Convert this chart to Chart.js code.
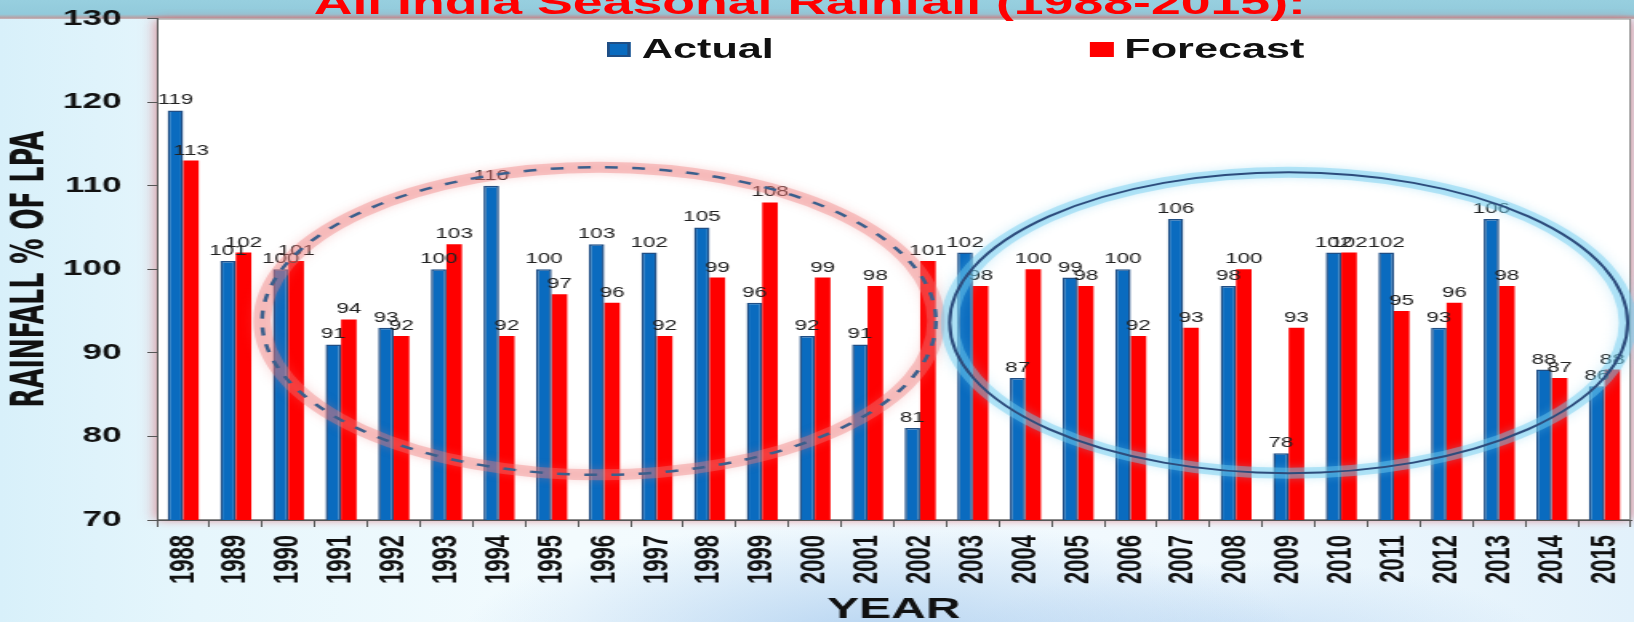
<!DOCTYPE html>
<html>
<head>
<meta charset="utf-8">
<script src="https://cdn.jsdelivr.net/npm/chart.js@4.4.1/dist/chart.umd.min.js"></script>
<style>
  html, body { margin: 0; padding: 0; }
  body {
    width: 1634px; height: 622px; overflow: hidden; position: relative;
    font-family: 'Liberation Sans', Arial, sans-serif;
    background:
      radial-gradient(ellipse 420px 120px at 880px 640px, rgba(160,198,236,0.75), rgba(160,198,236,0) 100%),
      radial-gradient(ellipse 300px 90px at 1250px 650px, rgba(175,208,240,0.6), rgba(175,208,240,0) 100%),
      linear-gradient(to right, #d8f0fa 0%, #e6f6fc 12%, #f3fbfe 35%, #f1f9fe 70%, #e2f1fb 100%);
  }
  #band {
    position: absolute; left: 0; top: 0; width: 1634px; height: 19px;
    background: linear-gradient(#97cfdf 0%, #92cadb 75%, #b5a3a8 92%, #c9b7bb 100%);
  }
  /* the original slide stretches the chart sideways, so does this */
  #stage {
    position: absolute; left: 0; top: 0; width: 1021px; height: 622px;
    transform: scaleX(1.6004); transform-origin: 0 0;
  }
  #stage canvas { position: absolute; left: 0; top: 0; }
  #title {
    position: absolute; left: 196px; top: -14px; white-space: nowrap;
    font: bold 33.5px/33px 'Liberation Sans', Arial, sans-serif; color: #ff0000;
  }
  #legend { position: absolute; left: 379px; top: 36px; display: flex; }
  .item { display: flex; align-items: center; margin-right: 197px;
    font: bold 27px/27px 'Liberation Sans', Arial, sans-serif; color: #111; }
  .box { width: 15px; height: 15px; box-sizing: border-box; margin-right: 7px; }
</style>
</head>
<body>
<div id="band"></div>
<div id="stage">
  <canvas id="myChart" width="1021" height="622"></canvas>
  <div id="title">All India Seasonal Rainfall (1988-2015):</div>
  <div id="legend"></div>
</div>
<script>
const years = ['1988','1989','1990','1991','1992','1993','1994','1995','1996','1997',
  '1998','1999','2000','2001','2002','2003','2004','2005','2006','2007',
  '2008','2009','2010','2011','2012','2013','2014','2015'];
const actual   = [119,101,100,91,93,100,110,100,103,102,105,96,92,91,81,102,87,99,100,106,98,78,102,102,93,106,88,86];
const forecast = [113,102,101,94,92,103,92,97,96,92,99,108,99,98,101,98,100,98,92,93,100,93,102,95,96,98,87,88];
const yTicks = [70, 80, 90, 100, 110, 120, 130];

// the two rings on the slide, in chart units (category index / % of LPA)
const rings = [
  { x: 7.9, y: 93.8, rx: 6.4, ry: 18.4, dashed: true },
  { x: 21,  y: 93.6, rx: 6.44, ry: 18.0, dashed: false }
];

const font = "'Liberation Sans', Arial, sans-serif";

const plotBox = {
  id: 'plotBox',
  beforeDraw(chart) {
    const {ctx, chartArea: a} = chart;
    ctx.save();
    ctx.shadowColor = 'rgba(215,95,105,0.8)';
    ctx.shadowBlur = 9;
    ctx.fillStyle = '#fff';
    ctx.fillRect(a.left, a.top, a.width, a.height);
    ctx.restore();
    ctx.save();
    ctx.strokeStyle = '#8c8c8c';
    ctx.lineWidth = 1;
    ctx.strokeRect(a.left + 0.5, a.top + 0.5, a.width - 1, a.height - 1);
    ctx.restore();
  }
};

const barLabels = {
  id: 'barLabels',
  afterDatasetsDraw(chart) {
    const ctx = chart.ctx;
    ctx.save();
    ctx.font = '14px ' + font;
    ctx.fillStyle = '#222';
    ctx.textAlign = 'center';
    chart.data.datasets.forEach((ds, i) => {
      chart.getDatasetMeta(i).data.forEach((bar, j) => {
        ctx.fillText(ds.data[j], bar.x, bar.y - 6);
      });
    });

    const xs = chart.scales.x, ys = chart.scales.y;
    rings.forEach(r => {
      const cx = xs.getPixelForValue(r.x);
      const cy = ys.getPixelForValue(r.y);
      const rx = xs.getPixelForValue(r.x + r.rx) - cx;
      const ry = ys.getPixelForValue(r.y - r.ry) - cy;
      ctx.beginPath();
      ctx.ellipse(cx, cy, rx, ry, 0, 0, Math.PI * 2);
      ctx.lineWidth = 11;
      ctx.strokeStyle = r.dashed ? 'rgba(238,120,120,0.38)' : 'rgba(110,205,240,0.45)';
      ctx.shadowColor = r.dashed ? 'rgba(238,120,120,0.7)' : 'rgba(110,205,240,0.7)';
      ctx.shadowBlur = 8;
      ctx.stroke();
      ctx.shadowBlur = 0;
      ctx.shadowColor = 'transparent';
      if (r.dashed) ctx.setLineDash([8, 9]);
      ctx.lineWidth = r.dashed ? 2.5 : 2;
      ctx.strokeStyle = r.dashed ? '#3b5f8c' : '#2d4c7c';
      ctx.stroke();
      ctx.setLineDash([]);
    });
    ctx.restore();
  }
};

const chart = new Chart(document.getElementById('myChart'), {
  type: 'bar',
  data: {
    labels: years,
    datasets: [
      { label: 'Actual', data: actual, backgroundColor: '#0a6bbf', borderColor: '#1f4e85',
        borderWidth: 1.5, borderSkipped: 'start' },
      { label: 'Forecast', data: forecast, backgroundColor: '#ff0000', borderWidth: 0 }
    ]
  },
  options: {
    responsive: false,
    animation: false,
    devicePixelRatio: 1,
    categoryPercentage: 0.59,
    barPercentage: 1.0,
    layout: { padding: { top: 18.5, right: 2, left: 0, bottom: 0 } },
    plugins: { legend: { display: false }, tooltip: { enabled: false } },
    scales: {
      x: {
        grid: { drawOnChartArea: false, offset: true, tickLength: 7, color: '#555' },
        border: { color: '#555' },
        ticks: { minRotation: 90, maxRotation: 90, autoSkip: false, padding: 8, color: '#111',
          font: { family: font, weight: 'bold', size: 22 } },
        title: { display: true, text: 'YEAR', color: '#111', padding: { top: 0, bottom: 0 },
          font: { family: font, weight: 'bold', size: 30, lineHeight: 0.8 } },
        afterFit(scale) {
          scale.height = 102;
          scale.paddingLeft = 0;
          scale.paddingRight = 0;
        }
      },
      y: {
        min: yTicks[0],
        max: yTicks[yTicks.length - 1],
        grid: { drawOnChartArea: false, tickLength: 6, color: '#555' },
        border: { color: '#555' },
        ticks: { stepSize: 10, padding: 16, color: '#111',
          font: { family: font, weight: 'bold', size: 22 } },
        title: { display: true, text: 'RAINFALL % OF LPA', color: '#111', padding: { top: 3, bottom: 0 },
          font: { family: "'Liberation Sans Narrow', 'DejaVu Sans Condensed', " + font, weight: 'bold', size: 28 } },
        afterFit(scale) {
          scale.width = 98;
          scale.paddingTop = 0;
          scale.paddingBottom = 0;
        }
      }
    }
  },
  plugins: [plotBox, barLabels]
});

// legend built from the datasets
const legend = document.getElementById('legend');
chart.data.datasets.forEach(ds => {
  const item = document.createElement('div');
  item.className = 'item';
  const box = document.createElement('span');
  box.className = 'box';
  box.style.background = ds.backgroundColor;
  if (ds.borderWidth) box.style.border = '2px solid ' + ds.borderColor;
  item.appendChild(box);
  item.appendChild(document.createTextNode(ds.label));
  legend.appendChild(item);
});
</script>
</body>
</html>
